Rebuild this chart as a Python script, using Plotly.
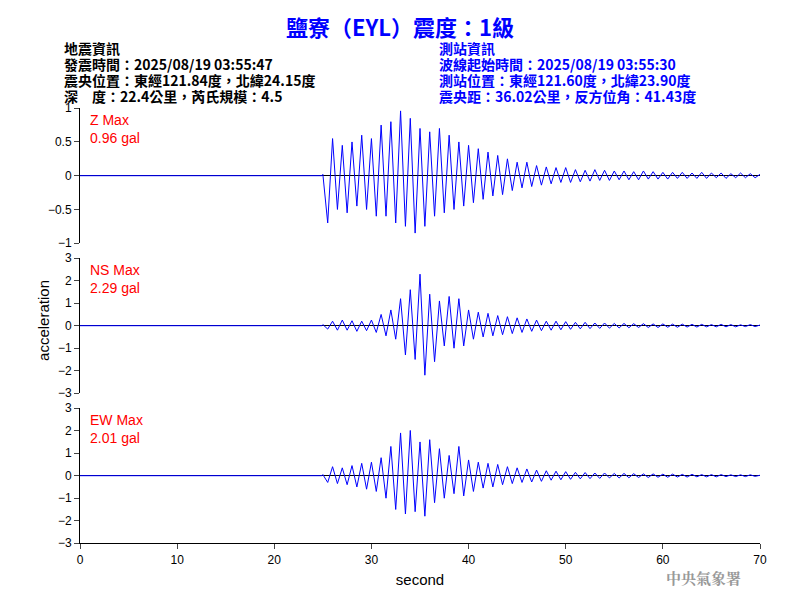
import numpy as np
import plotly.graph_objects as go

t_start, t_step = 25.0, 0.5
z_vals = [0.02,-0.70,0.55,-0.50,0.45,-0.55,0.50,-0.45,0.60,-0.50,
          0.55,-0.60,0.75,-0.60,0.80,-0.70,0.96,-0.75,0.85,-0.85,
          0.70,-0.75,0.65,-0.60,0.70,-0.55,0.60,-0.50,0.50,-0.45,
          0.45,-0.40,0.40,-0.35,0.35,-0.30,0.30,-0.28,0.25,-0.22,
          0.20,-0.18,0.20,-0.16,0.15,-0.14,0.13,-0.12,0.12,-0.10,
          0.12,-0.10,0.09,-0.09,0.08,-0.08,0.09,-0.07,0.08,-0.07,
          0.07,-0.06,0.07,-0.06,0.06,-0.06,0.07,-0.05,0.06,-0.05,
          0.05,-0.05,0.05,-0.04,0.05,-0.04,0.04,-0.04,0.05,-0.04,
          0.04,-0.03,0.04,-0.04,0.03,-0.03,0.04,-0.03,0.03,-0.03,
          0.02]
ns_vals = [0.05,-0.15,0.20,-0.20,0.25,-0.20,0.22,-0.25,0.20,-0.22,
           0.25,-0.30,0.50,-0.45,0.70,-0.60,1.20,-1.30,1.60,-1.50,
           2.29,-2.20,1.40,-1.60,1.10,-0.90,1.30,-1.00,1.20,-0.90,
           0.70,-0.60,0.60,-0.50,0.55,-0.45,0.45,-0.40,0.40,-0.35,
           0.35,-0.30,0.30,-0.25,0.25,-0.22,0.20,-0.20,0.20,-0.18,
           0.18,-0.16,0.15,-0.14,0.15,-0.13,0.12,-0.12,0.12,-0.11,
           0.10,-0.10,0.10,-0.09,0.09,-0.08,0.09,-0.08,0.08,-0.08,
           0.08,-0.07,0.07,-0.07,0.07,-0.06,0.06,-0.06,0.06,-0.05,
           0.05,-0.05,0.06,-0.05,0.05,-0.05,0.04,-0.04,0.05,-0.04,
           0.03]
ew_vals = [0.05,-0.30,0.40,-0.35,0.35,-0.40,0.45,-0.50,0.55,-0.60,
           0.60,-0.70,0.80,-1.00,1.30,-1.50,1.90,-1.70,2.01,-1.60,
           1.50,-1.80,1.60,-1.20,1.20,-1.00,0.90,-0.80,1.30,-0.90,
           0.70,-0.70,0.60,-0.55,0.55,-0.50,0.50,-0.40,0.40,-0.35,
           0.35,-0.30,0.30,-0.28,0.25,-0.25,0.22,-0.20,0.20,-0.18,
           0.18,-0.16,0.15,-0.14,0.14,-0.13,0.12,-0.12,0.12,-0.10,
           0.10,-0.10,0.10,-0.09,0.09,-0.08,0.08,-0.08,0.08,-0.07,
           0.07,-0.07,0.07,-0.06,0.06,-0.06,0.06,-0.05,0.05,-0.05,
           0.05,-0.05,0.05,-0.04,0.04,-0.04,0.04,-0.04,0.04,-0.03,
           0.02]
pre_t = [0.0, 24.9]
pre_v = [0.0, 0.0]
labels = ["Z Max<br>0.96 gal", "NS Max<br>2.29 gal", "EW Max<br>2.01 gal"]
yranges = [(-1, 1), (-3, 3), (-3, 3)]
left_lines = ["地震資訊", "發震時間：2025/08/19 03:55:47",
              "震央位置：東經121.84度，北緯24.15度", "深　度：22.4公里，芮氏規模：4.5"]
right_lines = ["測站資訊", "波線起始時間：2025/08/19 03:55:30",
               "測站位置：東經121.60度，北緯23.90度", "震央距：36.02公里，反方位角：41.43度"]

t = np.concatenate([pre_t, t_start + t_step * np.arange(len(z_vals))])
CJK = "Noto Sans CJK TC"
fig = go.Figure()
domains = [(0.608, 0.833), (0.358, 0.583), (0.108, 0.333)]
for i, (vals, dom, yr, lab) in enumerate(zip([z_vals, ns_vals, ew_vals], domains, yranges, labels)):
    n = i + 1
    fig.add_trace(go.Scatter(x=t, y=pre_v + vals, mode="lines", line=dict(color="blue", width=1),
                             xaxis=f"x{n}", yaxis=f"y{n}", showlegend=False))
    last = (n == 3)
    fig.layout[f"xaxis{n}"] = dict(domain=[0, 1], range=[0, 70], anchor=f"y{n}", automargin=False,
                                   showticklabels=last, ticks="outside" if last else "",
                                   showline=last, linecolor="black", showgrid=False, zeroline=False,
                                   dtick=10, tickfont=dict(family="Liberation Sans", size=12, color="black"),
                                   title=dict(text="second", standoff=8,
                                              font=dict(family="Liberation Sans", size=15, color="black")) if last else None)
    fig.layout[f"yaxis{n}"] = dict(domain=list(dom), range=list(yr), anchor=f"x{n}", showline=True,
                                   automargin=False, linecolor="black", ticks="outside", showgrid=False,
                                   zeroline=True, zerolinecolor="black", zerolinewidth=1,
                                   dtick=0.5 if n == 1 else 1,
                                   tickfont=dict(family="Liberation Sans", size=12, color="black"))
    fig.add_annotation(text=lab, xref="paper", yref="paper", x=0.012, y=dom[1] - 0.003,
                       xanchor="left", yanchor="top", showarrow=False, align="left",
                       font=dict(family="Liberation Sans", size=14, color="red"))

fig.add_annotation(text="<b>鹽寮（EYL）震度：1級</b>", xref="paper", yref="paper", x=0.47, y=1.0,
                   xanchor="center", yanchor="top", showarrow=False,
                   font=dict(family=CJK, size=22, color="blue"))
for k, (ll, rl) in enumerate(zip(left_lines, right_lines)):
    yy = 0.953 - k * 16 / 600
    fig.add_annotation(text=f"<b>{ll}</b>", xref="paper", yref="paper", x=-0.026, y=yy,
                       xanchor="left", yanchor="top", showarrow=False,
                       font=dict(family=CJK, size=14, color="black"))
    fig.add_annotation(text=f"<b>{rl}</b>", xref="paper", yref="paper", x=0.525, y=yy,
                       xanchor="left", yanchor="top", showarrow=False,
                       font=dict(family=CJK, size=14, color="blue"))
fig.add_annotation(text="acceleration", xref="paper", yref="paper", x=-0.07, y=0.48, textangle=-90,
                   showarrow=False, font=dict(family="Liberation Sans", size=15, color="black"))
fig.add_annotation(text="<b>中央氣象署</b>", xref="paper", yref="paper", x=0.975, y=0.03,
                   xanchor="right", yanchor="bottom", showarrow=False,
                   font=dict(family="Noto Serif CJK TC, " + CJK, size=15, color="#999999"))
fig.update_layout(width=800, height=600, margin=dict(l=72, r=48, t=0, b=0),
                  paper_bgcolor="white", plot_bgcolor="white")
fig.write_html("out.html")
